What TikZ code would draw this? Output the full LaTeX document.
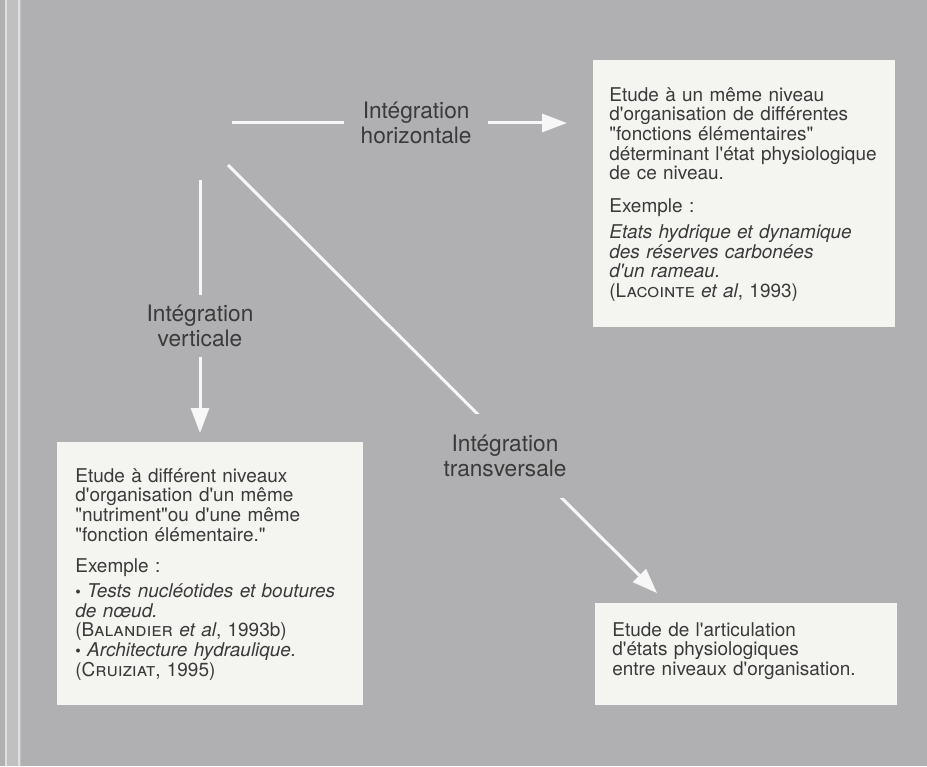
\documentclass[tikz,border=0pt]{standalone}
\usepackage{fontspec}
\setmainfont[Ligatures=TeXOff]{TeX Gyre Heros}
\usepackage{tikz}
\usetikzlibrary{positioning, arrows.meta, calc}

\definecolor{fond}{RGB}{176,176,178}
\definecolor{blanc}{RGB}{244,244,241}
\definecolor{encre}{RGB}{58,58,58}
\definecolor{trait}{RGB}{247,247,247}

\newcommand{\boitefont}{\fontsize{10.8pt}{11.2pt}\selectfont}
\newcommand{\etiqfont}{\fontsize{12.9pt}{14.2pt}\selectfont}

\tikzset{
  boite/.style={fill=blanc, inner sep=0pt, anchor=north west},
  texte/.style={inner sep=0pt, align=left, text=encre, font=\boitefont, text width=5.6cm},
  fleche/.style={draw=trait, line width=0.06cm, -{Triangle[length=0.5cm, width=0.36cm]}},
  etiq/.style={fill=fond, text=encre, font=\etiqfont, align=center, inner xsep=0.33cm, inner ysep=0.2cm},
}

\begin{document}
\begin{tikzpicture}
        \fill[fond] (0,0) rectangle (18.54,15.32);
        \useasboundingbox (0,0) rectangle (18.54,15.32);
        % bord gauche
        \fill[fond!80!white] (0.1,0) rectangle (0.42,15.32);
        \draw[white!60!fond, line width=0.03cm] (0.12,0) -- (0.12,15.32);
        \draw[white!60!fond, line width=0.03cm] (0.38,0) -- (0.38,15.32);

        \node[boite, minimum width=6.04cm, minimum height=5.34cm] (horiz) at (11.86,14.12) {};
        \node[boite, minimum width=6.12cm, minimum height=5.26cm] (vert) at (1.14,6.48) {};
        \node[boite, minimum width=6.04cm, minimum height=2.04cm] (trans) at (11.9,3.26) {};

        \node[texte, below right=0.54cm and 0.32cm of horiz.north west] (thoriz) {Etude à un même niveau\\ d'organisation de différentes\\ "fonctions élémentaires"\\ déterminant l'état physiologique\\ de ce niveau.\\[7.5pt] Exemple :\\[3.5pt] \textit{Etats hydrique et dynamique}\\ \textit{des réserves carbonées}\\ \textit{d'un rameau.}\\ (\textsc{Lacointe} \textit{et al}, 1993)};
        \node[texte, below right=0.52cm and 0.36cm of vert.north west] (tvert) {Etude à différent niveaux\\ d'organisation d'un même\\ "nutriment"ou d'une même\\ "fonction élémentaire."\\[6.5pt] Exemple :\\[3pt] {\small\textbullet} \textit{Tests nucléotides et boutures}\\ \textit{de nœud.}\\ (\textsc{Balandier} \textit{et al}, 1993b)\\ {\small\textbullet} \textit{Architecture hydraulique.}\\ (\textsc{Cruiziat}, 1995)};
        \node[texte, below right=0.38cm and 0.34cm of trans.north west] (ttrans) {Etude de l'articulation\\ d'états physiologiques\\ entre niveaux d'organisation.};

        \coordinate (hdep) at (4.64,12.86);
        \coordinate (vdep) at (4.0,11.72);
        \coordinate (tdep) at (4.56,12.02);
        \coordinate (tfin) at ($(trans.north west)+(1.44,0)$);

        \draw[fleche, shorten >=0.52cm] (hdep) -- node[etiq, pos=0.51] (lh) {Intégration\\horizontale} (hdep -| horiz.west);
        \draw[fleche, shorten >=0.18cm] (vdep) -- node[etiq, pos=0.557] (lv) {Intégration\\verticale} (vdep |- vert.north);
        \draw[fleche, shorten >=0.28cm] (tdep) -- (tfin);
        \node[etiq, minimum height=1.68cm] (lt) at (10.1,6.2) {Intégration\\transversale};
    \end{tikzpicture}
\end{document}
